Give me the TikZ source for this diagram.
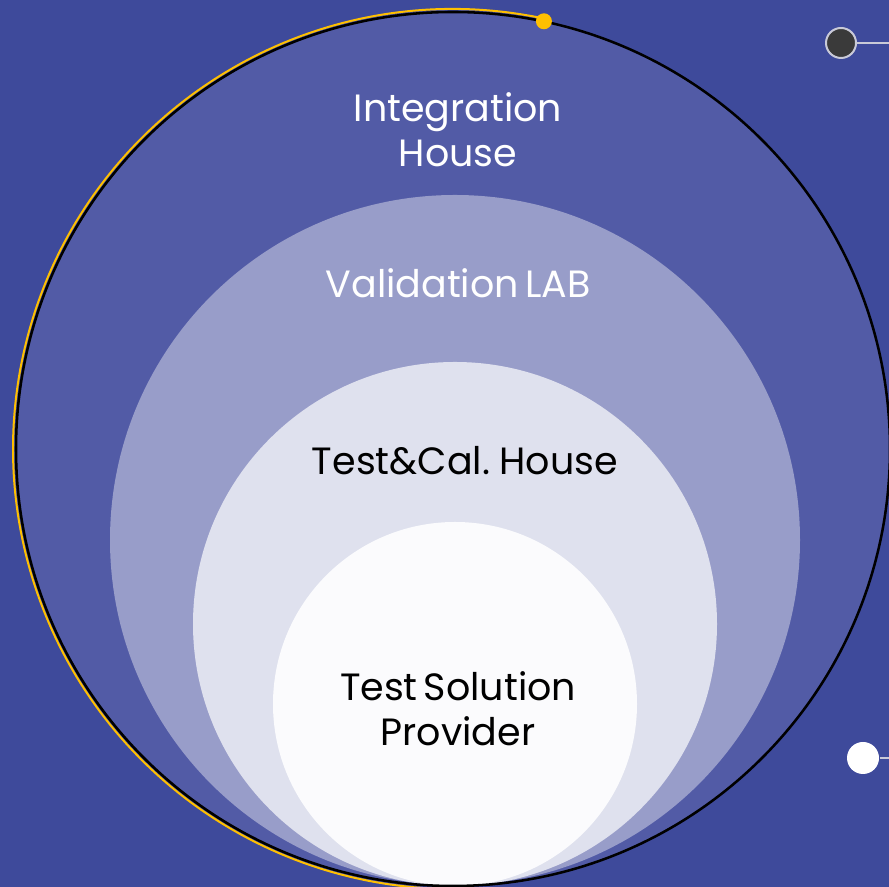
\documentclass[tikz,border=0pt]{standalone}
\usepackage{fontspec}
\setmainfont{Poppins}[WordSpace=0.6]
\definecolor{bgblue}{HTML}{3E4A9B}
\definecolor{ringone}{HTML}{525BA6}
\definecolor{ringtwo}{HTML}{989DC9}
\definecolor{ringthree}{HTML}{DFE1EE}
\definecolor{ringfour}{HTML}{FBFBFD}
\definecolor{accent}{HTML}{FFC000}
\definecolor{dotgray}{HTML}{3A3A3A}
\definecolor{linegray}{HTML}{C9CAD8}
\begin{document}
\begin{tikzpicture}[x=0.75pt,y=0.75pt,
  ring/.style={circle,inner sep=0pt,draw=none},
  lbl/.style={font=\fontsize{28.5}{34}\selectfont,align=center,anchor=base},
  marker/.style={circle,inner sep=0pt,line width=1.5pt}]
  % canvas
  \fill[bgblue] (0,0) rectangle (889,887);
  \useasboundingbox (0,0) rectangle (889,887);
  % nested circles, all touching the bottom edge (sizes in pt = px * 0.75)
  \node[ring,fill=ringone,minimum size=655.5pt] (outer) at (453,438) {};
  \node[ring,fill=ringtwo,minimum size=517.5pt] (valid) at (455,347) {};
  \node[ring,fill=ringthree,minimum size=393pt] (tcal) at (455,263) {};
  \node[ring,fill=ringfour,minimum size=273pt] (tsp) at (455,183) {};
  % outline of the outer circle with the highlighted arc
  \draw[black,line width=1.9pt] (outer.center) circle[radius=437];
  \draw[accent,line width=1.5pt] (outer.center) ++(78.3:440) arc[start angle=78.3,end angle=266,radius=440];
  \node[marker,fill=accent,minimum size=12pt] (adot) at (outer.78.3) {};
  % labels (anchor is the baseline of the last line)
  \node[lbl,text=white] (lone) at (458,720) {Integration\\House};
  \node[lbl,text=white] (ltwo) at (458,589) {Validation LAB};
  \node[lbl,text=black] (lthree) at (465,412) {Test\&Cal. House};
  \node[lbl,text=black] (lfour) at (458,141) {Test Solution\\Provider};
  % side markers with leader lines
  \coordinate (gend) at (889,844);
  \coordinate (wend) at (889,129);
  \node[marker,fill=dotgray,draw=linegray,minimum size=22.5pt] (gdot) at (841,844) {};
  \draw[linegray,line width=1.5pt] (gdot.east) -- (gend);
  \node[marker,fill=white,draw=none,minimum size=24pt] (wdot) at (863,129) {};
  \draw[linegray,line width=1.5pt] (wdot.east) -- (wend);
\end{tikzpicture}
\end{document}
